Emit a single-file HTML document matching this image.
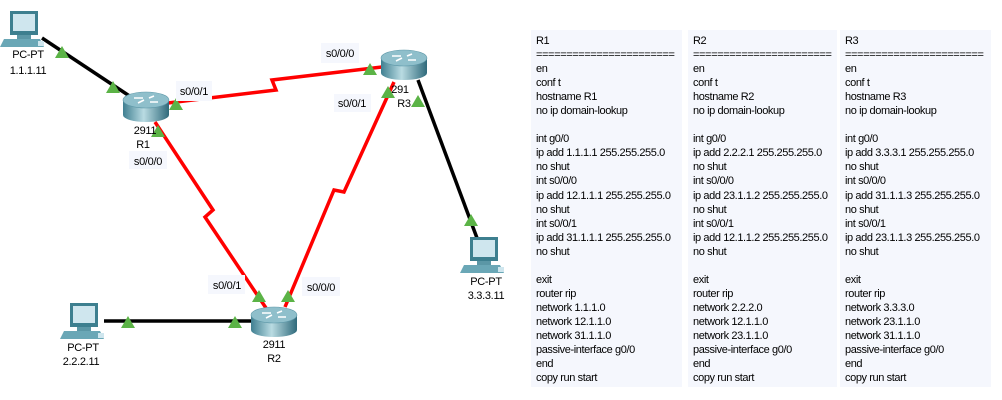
<!DOCTYPE html>
<html><head><meta charset="utf-8"><style>
body{margin:0;width:1002px;height:400px;background:#fff;position:relative;overflow:hidden;font-family:"Liberation Sans",Arial,sans-serif;}
.p{position:absolute;top:30px;height:357px;background:#f5f7fd;font-size:11px;letter-spacing:-0.4px;line-height:14.04px;color:#000;padding:4px 0 0 5px;box-sizing:border-box;white-space:pre;overflow:hidden;}
svg text{font-family:"Liberation Sans",Arial,sans-serif;font-size:11px;letter-spacing:-0.3px;}
</style></head><body>
<svg width="530" height="400" style="position:absolute;left:0;top:0">
<defs>
<linearGradient id="rg" x1="0" x2="1"><stop offset="0" stop-color="#3f7f91"/><stop offset=".45" stop-color="#b9dbe2"/><stop offset="1" stop-color="#2f6a7b"/></linearGradient>
<g id="rt">
<path d="M-23,-7 L-23,8 A23,7 0 0 0 23,8 L23,-7 Z" fill="url(#rg)"/>
<ellipse cx="0" cy="-7" rx="23" ry="8" fill="#8fbfcb" stroke="#5e98a8" stroke-width=".6"/>
<path d="M-12,-9 L-3,-9 M-8,-4 L-2,-7 M3,-9 L8,-11 M4,-5 L12,-5" stroke="#fff" stroke-width="1.6"/>
</g>
<g id="pc">
<rect x="-14" y="0" width="28" height="24" fill="#3d7f8f"/>
<rect x="-11" y="3" width="22" height="17" fill="#cfe6ee"/>
<rect x="-7" y="24" width="14" height="4" fill="#5b97a6"/>
<path d="M-20,28 L16,28 L20,36 L-24,36 Z" fill="#6aa7b6"/>
<rect x="14" y="30" width="6" height="5" fill="#cfe6ee"/>
</g>
<path id="tri" d="M-7,5 L7,5 L0,-7 Z"/>
</defs>
<g fill="none" stroke-width="3.5">
<path d="M42,38 L131,97" stroke="#000"/>
<path d="M418,80 L477,238" stroke="#000"/>
<path d="M104,321 L253,321" stroke="#000"/>
<path d="M168,103 L276,90 L272,80 L382,67" stroke="#f00"/>
<path d="M155,122 L213,210 L205,217 L266,308" stroke="#f00"/>
<path d="M394,82 L344,192 L334,190 L285,307" stroke="#f00"/>
</g>
<g fill="#5bb346">
<use href="#tri" x="62" y="53"/><use href="#tri" x="113" y="88"/>
<use href="#tri" x="176" y="105"/><use href="#tri" x="370" y="70"/>
<use href="#tri" x="158" y="132"/><use href="#tri" x="388" y="93"/>
<use href="#tri" x="418" y="102"/><use href="#tri" x="471" y="221"/>
<use href="#tri" x="259" y="297"/><use href="#tri" x="288" y="297"/>
<use href="#tri" x="128" y="323"/><use href="#tri" x="235" y="323"/>
</g>
<use href="#rt" x="146" y="107"/>
<use href="#rt" x="404" y="65"/>
<use href="#rt" x="274" y="322"/>
<use href="#pc" x="24" y="11"/>
<use href="#pc" x="84" y="303"/>
<use href="#pc" x="484" y="237"/>
<g fill="#f5f7fd">
<rect x="176" y="81" width="36" height="20"/><rect x="321" y="43" width="38" height="20"/>
<rect x="334" y="94" width="37" height="18"/><rect x="129" y="151" width="38" height="18"/>
<rect x="208" y="275" width="37" height="19"/><rect x="302" y="277" width="38" height="19"/>
</g>
<g fill="#000" text-anchor="middle">
<text x="194" y="95">s0/0/1</text><text x="340" y="57">s0/0/0</text>
<text x="352" y="107">s0/0/1</text><text x="148" y="165">s0/0/0</text>
<text x="227" y="289">s0/0/1</text><text x="321" y="291">s0/0/0</text>
<text x="28" y="58">PC-PT</text><text x="28" y="74">1.1.1.11</text>
<text x="145" y="134">2911</text><text x="143" y="148">R1</text>
<text x="400" y="93">291</text><text x="404" y="107">R3</text>
<text x="274" y="348">2911</text><text x="274" y="362">R2</text>
<text x="83" y="351">PC-PT</text><text x="81" y="365">2.2.2.11</text>
<text x="486" y="285">PC-PT</text><text x="486" y="299">3.3.3.11</text>
</g>
</svg>
<div class="p" style="left:531px;width:151px">R1
=======================
en
conf t
hostname R1
no ip domain-lookup

int g0/0
ip add 1.1.1.1 255.255.255.0
no shut
int s0/0/0
ip add 12.1.1.1 255.255.255.0
no shut
int s0/0/1
ip add 31.1.1.1 255.255.255.0
no shut

exit
router rip
network 1.1.1.0
network 12.1.1.0
network 31.1.1.0
passive-interface g0/0
end
copy run start</div>
<div class="p" style="left:688px;width:149px">R2
=======================
en
conf t
hostname R2
no ip domain-lookup

int g0/0
ip add 2.2.2.1 255.255.255.0
no shut
int s0/0/0
ip add 23.1.1.2 255.255.255.0
no shut
int s0/0/1
ip add 12.1.1.2 255.255.255.0
no shut

exit
router rip
network 2.2.2.0
network 12.1.1.0
network 23.1.1.0
passive-interface g0/0
end
copy run start</div>
<div class="p" style="left:840px;width:151px">R3
=======================
en
conf t
hostname R3
no ip domain-lookup

int g0/0
ip add 3.3.3.1 255.255.255.0
no shut
int s0/0/0
ip add 31.1.1.3 255.255.255.0
no shut
int s0/0/1
ip add 23.1.1.3 255.255.255.0
no shut

exit
router rip
network 3.3.3.0
network 23.1.1.0
network 31.1.1.0
passive-interface g0/0
end
copy run start</div>
</body></html>
